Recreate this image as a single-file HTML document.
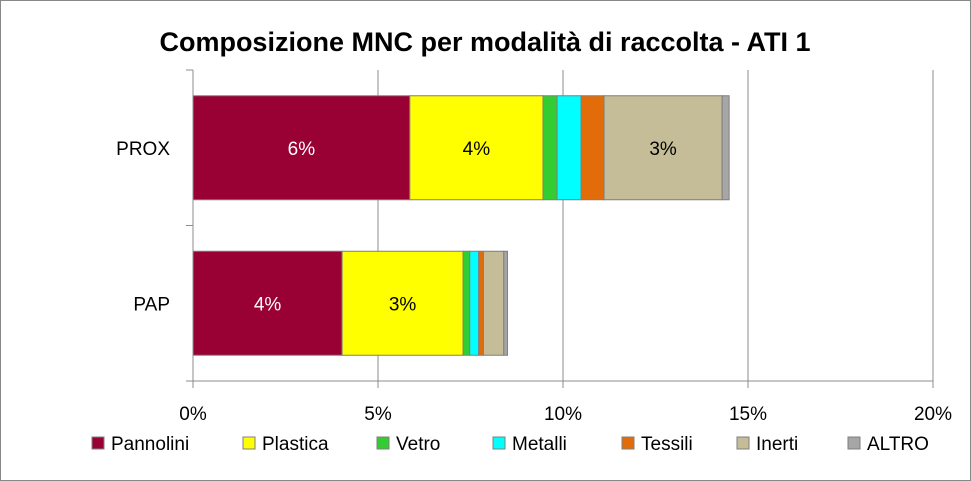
<!DOCTYPE html>
<html><head><meta charset="utf-8"><style>
body{margin:0;background:#fff}
svg{display:block;font-family:"Liberation Sans",Calibri,sans-serif}
</style></head><body>
<svg id="chart" width="971" height="481">
<rect x="0.5" y="0.5" width="970" height="480" fill="#fff" stroke="#888"/>
<text x="485" y="51" text-anchor="middle" font-size="27" font-weight="bold">Composizione MNC per modalità di raccolta - ATI 1</text>
<g id="grid"></g><g id="bars"></g><g id="axes"></g><g id="legend"></g>
</svg>
<script>
const categories=["PROX","PAP"];
const seriesNames=["Pannolini","Plastica","Vetro","Metalli","Tessili","Inerti","ALTRO"];
const seriesColors=["#990033","#ffff00","#33cc33","#00ffff","#e36c0a","#c4bd97","#a6a6a6"];
const proxValues=[5.86,3.6,0.38,0.65,0.62,3.19,0.19];
const papValues=[4.03,3.27,0.18,0.24,0.13,0.55,0.10];
const values=[proxValues,papValues];
const ticks=[0,5,10,15,20];
const tickLabels=["0%","5%","10%","15%","20%"];
const NS="http://www.w3.org/2000/svg";
const x0=193,x1=933,yTop=70,yBot=381,xMax=20;
const xs=v=>x0+(x1-x0)*v/xMax;
const band=(yBot-yTop)/categories.length;
const yc=i=>yTop+band*(i+0.5);
const barH=104;
function mk(t,a,p){const e=document.createElementNS(NS,t);for(const k in a)e.setAttribute(k,a[k]);p.appendChild(e);return e;}
const grid=document.getElementById('grid'),bars=document.getElementById('bars'),axes=document.getElementById('axes'),legend=document.getElementById('legend');
ticks.forEach((t,i)=>{
  if(i>0){const g=mk('line',{x1:xs(t),x2:xs(t),y1:yTop,y2:yBot,stroke:'#8c8c8c','stroke-width':1},grid);
  
  }
  const tk=mk('line',{x1:xs(t),x2:xs(t),y1:yBot,y2:yBot+7,stroke:'#8c8c8c'},axes);
  
  
  const lb=mk('text',{x:xs(t),y:420,'text-anchor':'middle','font-size':19},axes);
  lb.textContent=tickLabels[i];
  
  
});
categories.forEach((c,ci)=>{
  let acc=0;
  values[ci].forEach((v,si)=>{
    const r=mk('rect',{x:xs(acc),y:yc(ci)-barH/2,width:xs(acc+v)-xs(acc),height:barH,fill:seriesColors[si],stroke:'#7f7f7f','stroke-width':1},bars);
    
    
    if(v>=2.5){
      const t=mk('text',{x:(xs(acc)+xs(acc+v))/2,y:yc(ci)+7,'text-anchor':'middle','font-size':19,fill:si===0?'#fff':'#000'},bars);
      t.textContent=Math.round(v)+'%';
      
      
    }
    acc+=v;
  });
  const l=mk('text',{x:170,y:yc(ci)+7,'text-anchor':'end','font-size':19},axes);
  l.textContent=c;
  
  
});
const ax=mk('line',{x1:x0,x2:x1,y1:yBot,y2:yBot,stroke:'#8c8c8c'},axes);


const ay=mk('line',{x1:x0,x2:x0,y1:yTop,y2:yBot,stroke:'#8c8c8c'},axes);


for(let i=0;i<=categories.length;i++){
  const t=mk('line',{x1:x0-7,x2:x0,y1:yTop+band*i,y2:yTop+band*i,stroke:'#8c8c8c'},axes);
  
  
}
const legX=[92,243,377,493,622,737,848];
seriesNames.forEach((n,i)=>{
  const g=mk('g',{},legend);
  
  
  mk('rect',{x:legX[i],y:437,width:12,height:12,fill:seriesColors[i],stroke:'#7f7f7f'},g);
  const t=mk('text',{x:legX[i]+19,y:450,'font-size':19},g);
  t.textContent=n;
});
</script>
</body></html>
